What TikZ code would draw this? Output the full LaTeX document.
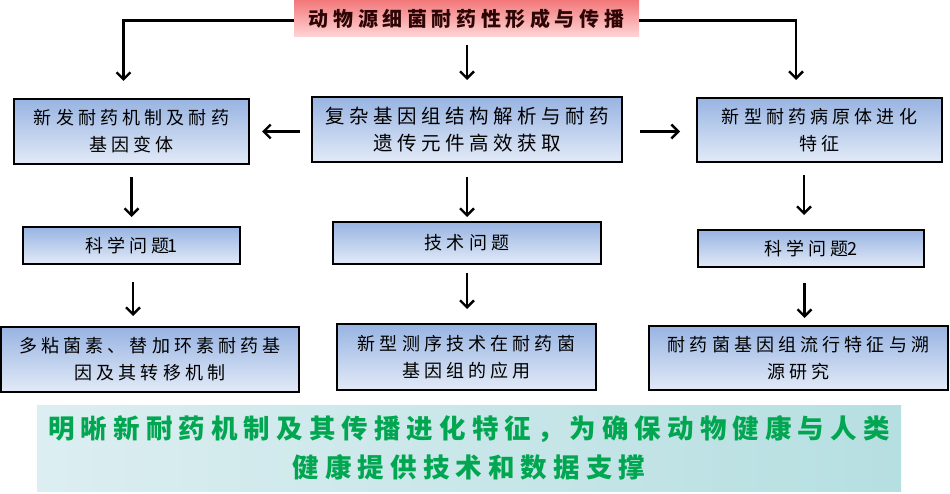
\documentclass[tikz,border=0pt]{standalone}
\usepackage{fontspec}
\newfontfamily\cjk[LetterSpace=23]{Noto Sans CJK SC}
\usetikzlibrary{arrows.meta}
\definecolor{boxtop}{RGB}{152,180,226}
\definecolor{boxbot}{RGB}{226,234,247}
\definecolor{pinktop}{RGB}{242,120,122}
\definecolor{pinkbot}{RGB}{255,214,214}
\definecolor{bannerL}{RGB}{220,238,241}
\definecolor{bannerR}{RGB}{182,223,225}
\definecolor{bannertext}{RGB}{0,166,80}
\definecolor{titletext}{RGB}{45,5,5}
\begin{document}
\begin{tikzpicture}[x=1pt,y=-1pt,
  box/.style={draw=black, line width=1.3pt, top color=boxtop, bottom color=boxbot,
    inner sep=0pt, outer sep=0pt, align=center,
    font=\cjk\fontsize{18}{27}\selectfont},
  titlebox/.style={top color=pinktop, bottom color=pinkbot, inner sep=0pt,
    outer sep=0pt, text=titletext, font=\cjk\bfseries\fontsize{20}{24}\selectfont},
  banner/.style={left color=bannerL, right color=bannerR, inner sep=0pt,
    outer sep=0pt, align=center, text=bannertext,
    font=\cjk\bfseries\fontsize{26.5}{39}\selectfont},
  arr/.style={line width=2.4pt, -{Straight Barb[length=7pt,width=14pt]}}]
\fill[white] (0,0) rectangle (950,494);
\useasboundingbox (0,0) rectangle (950,494);

\node[titlebox, minimum width=345pt, minimum height=37pt] (T) at (466.5,18.5) {动物源细菌耐药性形成与传播};

\node[box, minimum width=235pt, minimum height=65pt] (L1) at (131.5,131.5) {新发耐药机制及耐药\\基因变体};
\node[box, minimum width=310pt, minimum height=65pt, font=\cjk\fontsize{19.5}{27}\selectfont] (C1) at (467,129.5) {复杂基因组结构解析与耐药\\遗传元件高效获取};
\node[box, minimum width=245pt, minimum height=64pt] (R1) at (819.5,130) {新型耐药病原体进化\\特征};

\node[box, minimum width=217pt, minimum height=37pt] (L2) at (131.5,245.5) {科学问题\kern-1.5pt 1};
\node[box, minimum width=268pt, minimum height=42pt] (C2) at (467,243) {技术问题};
\node[box, minimum width=226pt, minimum height=37pt] (R2) at (811,248.5) {科学问题\kern-1.5pt 2};

\node[box, minimum width=298pt, minimum height=65pt] (L3) at (150,359.5) {多粘菌素、替加环素耐药基\\因及其转移机制};
\node[box, minimum width=259pt, minimum height=66pt] (C3) at (466.5,357) {新型测序技术在耐药菌\\基因组的应用};
\node[box, minimum width=299pt, minimum height=64pt] (R3) at (798.5,358) {耐药菌基因组流行特征与溯\\源研究};

\node[banner, minimum width=864pt, minimum height=86pt] (B) at (469,448) {明晰新耐药机制及其传播进化特征，为确保动物健康与人类\\健康提供技术和数据支撑};

% connectors from title
\draw[arr] ([yshift=-2pt]T.west) -| ([xshift=-8pt,yshift=18pt]L1.north);
\draw[arr] ([yshift=-2pt]T.east) -| ([xshift=-23.5pt,yshift=18pt]R1.north);
\draw[arr, shorten <=8pt, shorten >=17pt] (T.south -| C1.north) -- (C1.north);

% horizontal
\draw[arr, shorten <=12pt, shorten >=13pt] ([yshift=-2pt]C1.west) -- ([yshift=-2pt]C1.west -| L1.east);
\draw[arr, shorten <=18pt, shorten >=17pt] ([yshift=-2pt]C1.east) -- ([yshift=-2pt]C1.east -| R1.west);

% vertical row 1 -> 2
\draw[arr, shorten <=13pt, shorten >=10pt] (L1.south) -- (L1.south |- L2.north);
\draw[arr, shorten <=15pt, shorten >=5pt] (C1.south) -- (C1.south |- C2.north);
\draw[arr, shorten <=13pt, shorten >=15pt] ([xshift=-15.5pt]R1.south) -- ([xshift=-15.5pt]R1.south |- R2.north);

% vertical row 2 -> 3
\draw[arr, shorten <=18pt, shorten >=11pt] ([xshift=1.5pt]L2.south) -- ([xshift=1.5pt]L2.south |- L3.north);
\draw[arr, shorten <=9pt, shorten >=15pt] (C2.south) -- (C2.south |- C3.north);
\draw[arr, shorten <=16pt, shorten >=8pt] ([xshift=-6.5pt]R2.south) -- ([xshift=-6.5pt]R2.south |- R3.north);
\end{tikzpicture}
\end{document}
